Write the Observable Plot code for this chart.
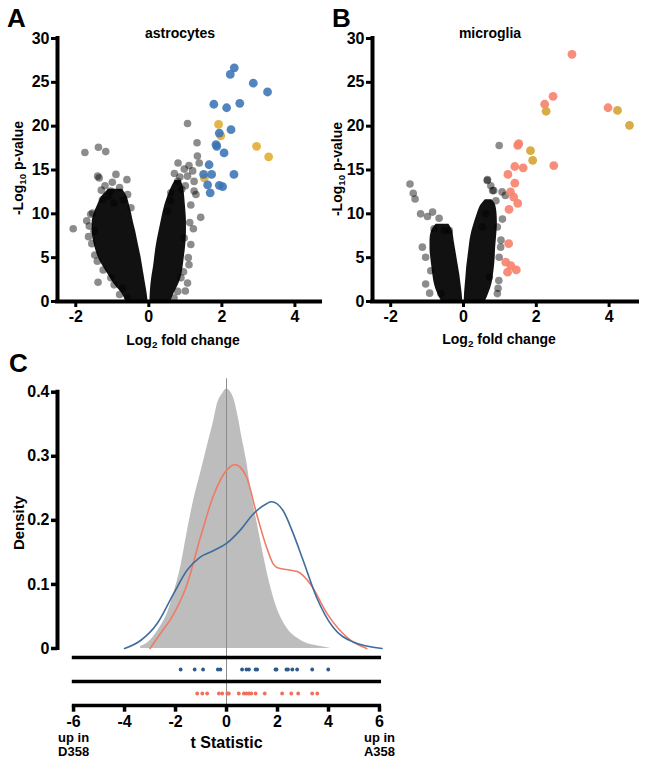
<!DOCTYPE html>
<html><head><meta charset="utf-8">
<script src="https://cdn.jsdelivr.net/npm/d3@7"></script>
<script src="https://cdn.jsdelivr.net/npm/@observablehq/plot@0.6"></script>
<style>
body{margin:0;background:#fff;}
#fig{position:relative;width:645px;height:762px;overflow:hidden;font-family:"Liberation Sans",Arial,sans-serif;font-weight:bold;color:#000;background:#fff;}
.lbl{position:absolute;white-space:nowrap;line-height:1;}
.lbl sub{font-size:0.7em;line-height:0;vertical-align:-0.3em;}
</style></head><body><div id="fig"></div>
<script>
// ---------- Panel A: astrocytes (log2 fold change, -log10 p) ----------
const aBlue = [[2.34,26.65],[2.23,25.9],[2.86,24.9],[3.25,23.9],[1.78,22.5],[2.13,22.1],[2.49,22.6],[2.25,19.6],[1.93,19.2],[1.84,17.9],[1.86,17.7],[2.06,16.95],[1.65,15.6],[1.50,14.5],[1.72,14.5],[2.33,14.5],[1.61,13.3],[1.93,13.25],[2.02,13.1],[1.68,12.4]];
const aYellow = [[1.91,20.2],[1.97,18.9],[2.95,17.7],[3.28,16.5],[1.52,14.1]];
const aGray = [[-1.75,17.0],[-1.38,17.6],[-1.18,17.1],[1.32,18.1],[1.33,16.6],[1.38,15.8],[0.80,15.8],[0.97,15.1],[1.06,14.3],[1.24,13.7],[1.29,12.2],[1.42,9.6],[1.22,8.3],[1.15,6.5],[1.08,5.0],[0.95,3.4],[1.06,2.1],[0.79,1.15],[-2.07,8.3],[-1.39,2.2],[-1.56,6.6],[-1.41,4.6],[-1.04,2.7],[-0.72,1.5],[-1.36,14.1],[-0.90,14.5],[-0.60,13.9],[-0.58,12.2],[-0.49,10.7],[-1.27,11.6],[-1.54,10.1],[-1.63,8.6],[-1.04,12.6],[0.60,11.5],[0.51,10.3],[0.79,13.7],[-1.50,8.0],[0.97,7.25],[0.88,2.7],[0.69,0.4],[-0.58,0.4],[1.06,20.3],[1.24,12.6],[1.2,14.9],[-1.4,14.3],[-1.59,9.95],[-1.2,13.2],[-1.0,13.6],[-0.8,13.0],[-1.1,12.0],[-0.7,11.6],[-1.3,12.7],[-0.95,11.2],[0.7,14.6],[0.85,14.2],[0.9,12.8],[1.0,13.2],[0.6,12.4],[1.1,15.5],[1.15,11.0],[1.12,9.0],[1.1,4.2],[1.0,1.2],[-1.7,9.2],[-1.65,7.4],[-1.48,5.3],[-1.25,3.6],[-0.95,1.9],[-0.8,0.8]];
// dense cloud outlines: [y, left x, right x]
const aLeftWing = [[0,-0.62,-0.02],[1,-0.75,-0.05],[2,-0.95,-0.09],[3,-1.1,-0.13],[4,-1.25,-0.17],[5,-1.38,-0.21],[6,-1.46,-0.26],[7,-1.52,-0.31],[8,-1.55,-0.36],[9,-1.55,-0.42],[10,-1.5,-0.47],[11,-1.4,-0.53],[12,-1.28,-0.6],[12.8,-1.1,-0.72]];
const aRightWing = [[0,0.03,0.6],[1,0.04,0.7],[2,0.06,0.82],[3,0.09,0.9],[4,0.13,0.94],[5,0.16,0.97],[6,0.19,1.0],[7,0.23,1.02],[8,0.28,1.03],[9,0.33,1.03],[10,0.38,1.02],[11,0.44,1.0],[12,0.52,0.98],[13,0.62,0.95],[13.8,0.72,0.88]];

// ---------- Panel B: microglia ----------
const bRed = [[2.98,28.2],[2.46,23.4],[2.23,22.5],[3.97,22.1],[1.52,18.0],[1.49,17.8],[1.41,15.4],[1.64,15.25],[2.48,15.5],[1.22,14.5],[1.41,13.5],[1.29,12.5],[1.38,11.9],[1.49,11.2],[1.25,10.5],[1.24,6.6],[1.16,4.5],[1.30,4.1],[1.45,3.6],[1.21,3.35]];
const bYellow = [[2.27,21.7],[4.23,21.8],[4.56,20.1],[1.84,17.2],[1.90,16.1]];
const bGray = [[0.98,17.8],[-1.47,13.4],[-1.38,12.35],[-1.33,11.7],[0.66,13.9],[1.15,12.1],[0.93,0.9],[0.95,1.5],[-1.04,2.0],[-0.93,0.95],[-1.13,6.2],[-0.99,9.7],[-0.85,10.2],[-0.67,9.5],[-0.39,8.1],[0.98,5.05],[1.03,7.0],[0.93,8.5],[1.07,9.4],[0.89,11.5],[0.80,12.65],[0.75,13.2],[-0.81,8.3],[-0.53,8.1],[-1.04,5.05],[-0.90,3.5],[-0.62,0.9],[0.52,8.5],[0.61,10.0],[0.71,2.8],[-1.18,10.0],[0.97,2.4],[1.02,6.2],[1.06,12.5],[0.65,13.8],[0.83,12.65]];
const bLeftWing = [[0,-0.6,-0.02],[1,-0.72,-0.04],[2,-0.8,-0.07],[3,-0.84,-0.1],[4,-0.87,-0.14],[5,-0.9,-0.18],[6,-0.92,-0.22],[7,-0.92,-0.26],[8,-0.88,-0.3],[8.8,-0.75,-0.4]];
const bRightWing = [[0,0.02,0.6],[1,0.03,0.7],[2,0.05,0.78],[3,0.07,0.82],[4,0.09,0.85],[5,0.12,0.87],[6,0.15,0.88],[7,0.18,0.9],[8,0.23,0.92],[9,0.3,0.93],[10,0.38,0.92],[11,0.48,0.88],[11.6,0.6,0.78]];

const volcanoXTicks = [-2, 0, 2, 4];
const volcanoYTicks = [0, 5, 10, 15, 20, 25, 30];

// ---------- Panel C: t statistic densities ----------
const bgDensity = [[-3.37,0.003],[-2.98,0.013],[-2.6,0.034],[-2.33,0.054],[-2.07,0.086],[-1.8,0.127],[-1.55,0.18],[-1.29,0.231],[-1.02,0.273],[-0.76,0.315],[-0.5,0.356],[-0.37,0.38],[-0.15,0.398],[0,0.405],[0.26,0.393],[0.46,0.361],[0.6,0.33],[0.78,0.294],[0.98,0.242],[1.18,0.2],[1.44,0.148],[1.7,0.101],[1.96,0.065],[2.35,0.033],[2.9,0.013],[3.69,0.003],[4.1,0]];
const astroDensity = [[-4.0,0],[-3.37,0.0125],[-2.72,0.039],[-2.07,0.086],[-1.55,0.122],[-1.02,0.143],[-0.5,0.153],[0,0.164],[0.52,0.184],[1.05,0.21],[1.57,0.226],[1.76,0.229],[2.22,0.215],[2.61,0.18],[3.0,0.138],[3.53,0.08],[4.18,0.033],[4.97,0.01],[6.1,0]];
const microDensity = [[-3.0,0],[-2.6,0.023],[-2.07,0.054],[-1.55,0.1],[-1.02,0.174],[-0.5,0.24],[0,0.278],[0.33,0.287],[0.78,0.268],[1.18,0.21],[1.57,0.158],[1.83,0.132],[2.0,0.126],[2.4,0.123],[2.78,0.12],[3.3,0.1],[3.95,0.054],[4.86,0.013],[5.5,0]];
const astroT = [-1.80,-1.25,-0.92,-0.34,-0.24,0.61,0.78,0.88,1.14,1.20,1.92,1.96,2.35,2.41,2.58,2.77,3.36,3.99];
const microT = [-1.15,-0.95,-0.76,-0.30,-0.17,0.03,0.09,0.48,0.68,0.78,0.88,0.97,1.14,1.50,2.18,2.54,2.81,3.36,3.56];
const densityTicks = [0, 0.1, 0.2, 0.3, 0.4];
const tTicks = [-6, -4, -2, 0, 2, 4, 6];
const rugRows = ["line1", "astrocytes", "line2", "microglia", "axis"];
const endLabels = [{t: -6, label: "up in\nD358"}, {t: 6, label: "up in\nA358"}];

// ---------- build ----------
const fig = document.getElementById("fig");
const st = {background: "transparent", fontFamily: "Liberation Sans, Arial, sans-serif", fontSize: "16px", fontWeight: "bold", color: "#000", overflow: "visible"};
const px = d => d[0], py = d => d[1];

function volcano(o) {
  const core = w => Plot.areaX(w, {y: d => d[0], x1: d => d[1], x2: d => d[2], fill: "#111", curve: "monotone-y"});
  return Plot.plot({
    width: o.width, height: 356, marginLeft: 57, marginRight: o.marginRight, marginTop: 38, marginBottom: 55,
    x: {domain: o.xDomain}, y: {domain: [0, 30]},
    style: st,
    marks: [
      core(o.left),
      core(o.right),
      Plot.dot(o.gray, {x: px, y: py, r: 3.8, fill: "#000", fillOpacity: 0.45}),
      ...o.colored.map(c => Plot.dot(c.data, {x: px, y: py, r: 4.4, fill: c.fill, fillOpacity: c.op})),
      Plot.axisY({ticks: volcanoYTicks, tickSize: 6, tickPadding: 2, strokeWidth: 3, label: null, tickFormat: d => String(d)}),
      Plot.axisX({ticks: volcanoXTicks, tickSize: 6, tickPadding: 3, strokeWidth: 3, label: null, tickFormat: d => String(d)}),
      Plot.ruleX([o.xDomain[0]], {strokeWidth: 4, strokeLinecap: "square"}),
      Plot.ruleY([0], {strokeWidth: 4, strokeLinecap: "square"})
    ]
  });
}

function place(el, left, top) {
  el.style.position = "absolute"; el.style.left = left + "px"; el.style.top = top + "px";
  fig.appendChild(el);
}

place(volcano({width: 322, marginRight: 2, xDomain: [-2.5, 4.7], left: aLeftWing, right: aRightWing, gray: aGray,
  colored: [{data: aYellow, fill: "#e4b23d", op: 0.95}, {data: aBlue, fill: "#3a74b5", op: 0.88}]}), 0, 0);
place(volcano({width: 330, marginRight: 8, xDomain: [-2.5, 4.78], left: bLeftWing, right: bRightWing, gray: bGray,
  colored: [{data: bRed, fill: "#f7836e", op: 0.92}, {data: bYellow, fill: "#d6a93b", op: 0.95}]}), 315, 0);

const cTop = Plot.plot({
  width: 385, height: 280, marginLeft: 57, marginRight: 6, marginTop: 21.7, marginBottom: 2,
  x: {domain: [-6.63, 6], axis: null}, y: {domain: [0, 0.4]},
  style: st,
  marks: [
    Plot.areaY(bgDensity, {x: px, y: py, fill: "#bdbdbd", curve: "monotone-x"}),
    Plot.ruleX([0], {y1: () => 0.421, y2: () => 0, stroke: "#8c8c8c", strokeWidth: 1, insetBottom: -9}),
    Plot.line(microDensity, {x: px, y: py, stroke: "#ee7b66", strokeWidth: 1.6, curve: "monotone-x"}),
    Plot.line(astroDensity, {x: px, y: py, stroke: "#3f6c9c", strokeWidth: 1.6, curve: "monotone-x"}),
    Plot.axisY({ticks: densityTicks, tickSize: 6, tickPadding: 2, strokeWidth: 3.5, label: null, tickFormat: d => d === 0 ? "0" : d.toFixed(1)}),
    Plot.ruleX([-6.63], {strokeWidth: 4, strokeLinecap: "square"})
  ]
});
place(cTop, 0, 370);

const cBot = Plot.plot({
  width: 385, height: 112, marginLeft: 57, marginRight: 6, marginTop: 6.7, marginBottom: 56.3,
  x: {domain: [-6.63, 6]}, y: {type: "point", domain: rugRows, padding: 0, axis: null},
  style: st,
  marks: [
    Plot.ruleX([0], {stroke: "#8c8c8c", strokeWidth: 1}),
    Plot.ruleY(["line1", "line2", "axis"], {x1: () => -6.05, x2: () => 6.08, strokeWidth: 3.5}),
    Plot.dot(astroT, {x: d => d, y: () => "astrocytes", r: 1.9, fill: "#2b5a8c"}),
    Plot.dot(microT, {x: d => d, y: () => "microglia", r: 1.9, fill: "#f0705a"}),
    Plot.axisX({ticks: tTicks, tickSize: 6, tickPadding: 3, strokeWidth: 3.5, label: null, tickFormat: d => String(d)}),
    Plot.text(["t Statistic"], {x: () => 0, text: d => d, frameAnchor: "bottom", lineAnchor: "middle", dy: 36.5, fontSize: 16}),
    Plot.text(endLabels, {x: "t", text: "label", frameAnchor: "bottom", lineAnchor: "middle", dy: 38, fontSize: 13, lineHeight: 1.06})
  ]
});
place(cBot, 0, 650);

// ---------- HTML labels ----------
function label(html, x, baseline, size, anchor = "start") {
  const d = document.createElement("div");
  d.className = "lbl"; d.innerHTML = html; d.style.fontSize = size + "px";
  d.style.left = x + "px"; d.style.top = (baseline - 0.846 * size) + "px";
  if (anchor === "middle") d.style.transform = "translateX(-50%)";
  fig.appendChild(d);
}
function vlabel(html, cx, cy, size) {
  const d = document.createElement("div");
  d.className = "lbl"; d.innerHTML = html; d.style.fontSize = size + "px";
  d.style.left = cx + "px"; d.style.top = cy + "px";
  d.style.transform = "translate(-50%,-50%) rotate(-90deg)";
  fig.appendChild(d);
}
label("A", 7, 27, 26);
label("B", 332, 27, 26);
label("C", 9, 372, 26);
label("astrocytes", 180, 37.5, 14, "middle");
label("microglia", 490, 37.5, 14, "middle");
label("Log<sub>2</sub> fold change", 183, 344.5, 14, "middle");
label("Log<sub>2</sub> fold change", 499, 343.5, 14, "middle");
vlabel("-Log<sub>10</sub> p-value", 18, 168, 14);
vlabel("-Log<sub>10</sub> p-value", 337, 169, 14);
vlabel("Density", 18, 523, 15);
</script></body></html>
